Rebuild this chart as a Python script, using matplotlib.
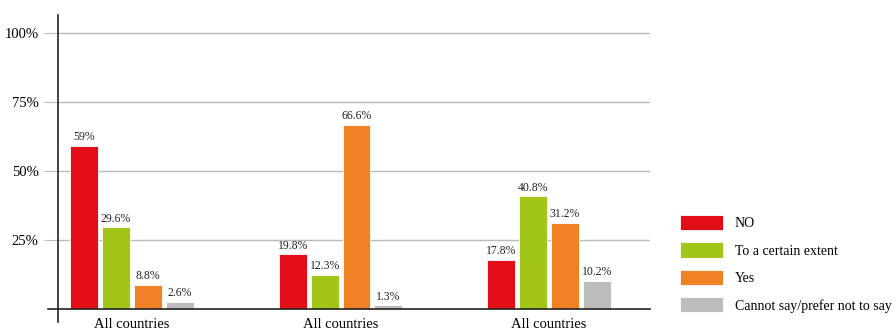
import matplotlib.pyplot as plt
import numpy as np

plt.rcParams['font.family'] = ['Liberation Serif', 'DejaVu Serif']

groups = ["All countries", "All countries", "All countries"]
series = ["NO", "To a certain extent", "Yes", "Cannot say/prefer not to say"]
values = [
    [59, 19.8, 17.8],
    [29.6, 12.3, 40.8],
    [8.8, 66.6, 31.2],
    [2.6, 1.3, 10.2],
]
labels = [
    ["59%", "19.8%", "17.8%"],
    ["29.6%", "12.3%", "40.8%"],
    ["8.8%", "66.6%", "31.2%"],
    ["2.6%", "1.3%", "10.2%"],
]
colors = ["#e30d17", "#a2c617", "#f08226", "#bdbdbd"]
yticks = [25, 50, 75, 100]
ytick_labels = ["25%", "50%", "75%", "100%"]

fig = plt.figure(figsize=(8.96, 3.3), dpi=100)
ax = fig.add_axes([58 / 896, 1 - 322 / 330, 592 / 896, 307 / 330])

x = np.arange(len(groups))
width = 0.134
step = 0.153
for i, (name, vals) in enumerate(zip(series, values)):
    pos = x + (i - 1.5) * step
    ax.bar(pos, vals, width, color=colors[i], label=name,
           edgecolor="white", linewidth=0.6, zorder=3)
    for p, v, t in zip(pos, vals, labels[i]):
        ax.text(p, v + 1.0, t, ha="center", va="bottom", fontsize=8.5, color="#222222")

ax.set_xlim(-0.355, 2.484)
ax.set_ylim(-4.7, 106.5)
ax.set_yticks(yticks)
ax.set_yticklabels(ytick_labels, fontsize=10.5)
ax.yaxis.grid(True, color="#bbbbbb", linewidth=1, zorder=0)
ax.tick_params(axis="y", length=10, color="#bbbbbb", pad=4)
ax.set_xticks(x)
ax.set_xticklabels(groups, fontsize=10.5)
ax.tick_params(axis="x", length=0, pad=-3)
ax.axhline(0, xmin=-10 / 592, xmax=1, color="#222222", linewidth=1.2, clip_on=False, zorder=4)

for s in ["top", "right", "bottom"]:
    ax.spines[s].set_visible(False)
ax.spines["left"].set_color("#222222")
ax.spines["left"].set_linewidth(1.2)

fig.legend(loc="upper left", bbox_to_anchor=(680 / 896, 1 - 215 / 330),
           frameon=False, fontsize=10, handlelength=3.1, handleheight=1.3,
           labelspacing=0.88, handletextpad=0.85, borderpad=0, borderaxespad=0)

fig.savefig("out.png", dpi=100)
